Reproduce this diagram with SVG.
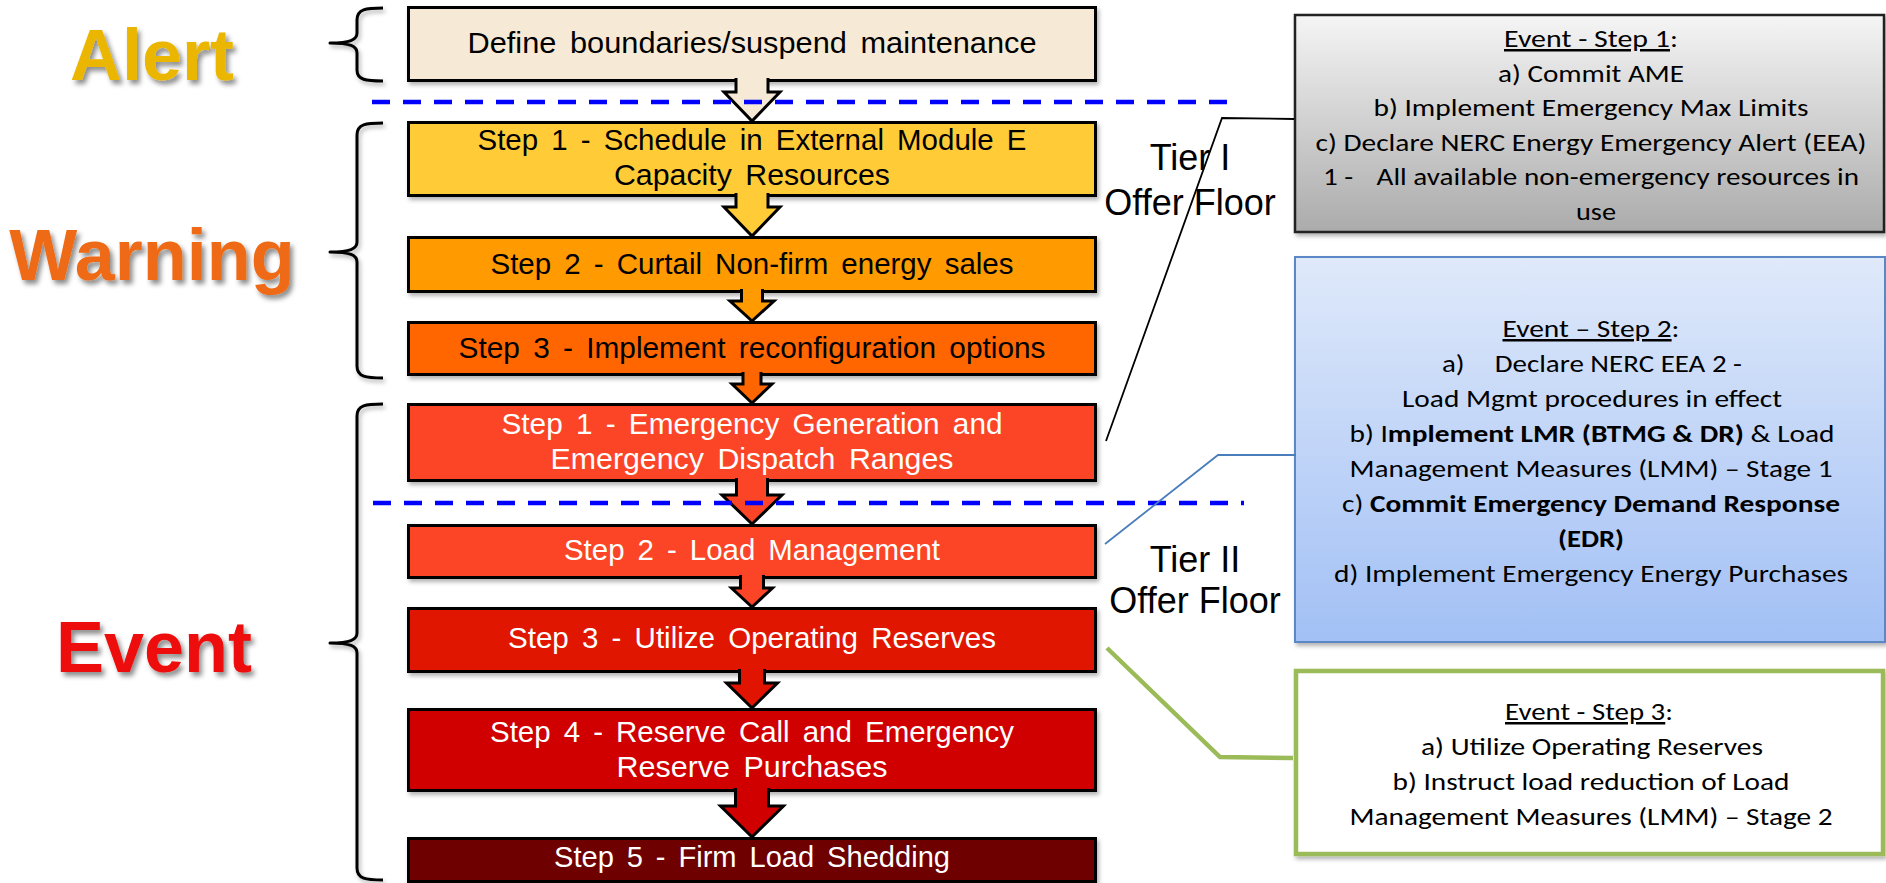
<svg xmlns="http://www.w3.org/2000/svg" width="1886" height="883" viewBox="0 0 1886 883">
  <defs>
    <filter id="textShadow" x="-10%" y="-20%" width="130%" height="150%">
      <feDropShadow dx="3" dy="4" stdDeviation="2.5" flood-color="#000" flood-opacity="0.45"/>
    </filter>
    <filter id="softShadow" x="-5%" y="-10%" width="115%" height="130%">
      <feDropShadow dx="2" dy="3" stdDeviation="2" flood-color="#000" flood-opacity="0.3"/>
    </filter>
    <linearGradient id="grayFill" x1="0" y1="0" x2="0" y2="1">
      <stop offset="0" stop-color="#F5F5F5"/>
      <stop offset="1" stop-color="#ABABAB"/>
    </linearGradient>
    <linearGradient id="blueFill" x1="0" y1="0" x2="0" y2="1">
      <stop offset="0" stop-color="#DFE9FA"/>
      <stop offset="1" stop-color="#A2C0F5"/>
    </linearGradient>
  </defs>
  <style>
    .phase{font-family:"Liberation Sans",Arial,sans-serif;font-weight:bold;font-size:72px;text-anchor:middle;filter:url(#textShadow)}
    .brace{fill:none;stroke:#000;stroke-width:3;stroke-linejoin:round;filter:url(#softShadow)}
    .step{stroke:#000;stroke-width:3;filter:url(#softShadow)}
    .lbl{font-family:"Liberation Sans Narrow","Arial Narrow","Liberation Sans",sans-serif;font-size:30px;word-spacing:5px;text-anchor:middle}
    .dark{fill:#000}
    .light{fill:#fff}
    .arrow{stroke:#000;stroke-width:3;stroke-linejoin:miter}
    .divider{stroke:#0000FF;stroke-width:4.5;stroke-dasharray:18 13;fill:none}
    .tier{font-family:"Liberation Sans",Arial,sans-serif;font-size:36px;text-anchor:middle;fill:#000}
    .note{font-family:Carlito,Lato,"Liberation Sans",sans-serif;font-size:25px;text-anchor:middle;fill:#000}
    .b{font-weight:bold}
    .u{text-decoration:underline}
    .callout{fill:none;stroke-linejoin:miter}
  </style>

  <!-- phase headings -->
  <g id="phase-alert">
    <text class="phase" x="152" y="80" fill="#EBB600">Alert</text>
    <path class="brace" d="M383,8 C366,8 357,9 357,20 V33 C357,40 350,43 330,43 C350,43 357,46 357,53 V70 C357,80 366,81 383,81"/>
  </g>
  <g id="phase-warning">
    <text class="phase" x="152" y="280" fill="#EE6A12">Warning</text>
    <path class="brace" d="M383,123 C366,123 357,124 357,135 V242 C357,249 350,252 330,252 C350,252 357,255 357,262 V366 C357,377 366,378 383,378"/>
  </g>
  <g id="phase-event">
    <text class="phase" x="154" y="672" fill="#EE0808">Event</text>
    <path class="brace" d="M383,404 C366,404 357,405 357,416 V633 C357,640 350,643 330,643 C350,643 357,646 357,653 V868 C357,879 366,880 383,880"/>
  </g>

  <!-- procedure steps -->
  <g id="alert-define">
    <rect class="step" x="408.5" y="7.5" width="687" height="73" fill="#F6EAD6"/>
    <text class="lbl dark" x="752" y="53" textLength="569" lengthAdjust="spacingAndGlyphs">Define boundaries/suspend maintenance</text>
  </g>
  <g id="warning-step1">
    <rect class="step" x="408.5" y="122.5" width="687" height="73" fill="#FFCC38"/>
    <text class="lbl dark" x="752" y="150" textLength="549" lengthAdjust="spacingAndGlyphs">Step 1 - Schedule in External Module E</text>
    <text class="lbl dark" x="752" y="185" textLength="276" lengthAdjust="spacingAndGlyphs">Capacity Resources</text>
  </g>
  <g id="warning-step2">
    <rect class="step" x="408.5" y="237.5" width="687" height="54" fill="#FF9A00"/>
    <text class="lbl dark" x="752" y="274" textLength="523" lengthAdjust="spacingAndGlyphs">Step 2 - Curtail Non-firm energy sales</text>
  </g>
  <g id="warning-step3">
    <rect class="step" x="408.5" y="322.5" width="687" height="52" fill="#FF6600"/>
    <text class="lbl dark" x="752" y="358" textLength="587" lengthAdjust="spacingAndGlyphs">Step 3 - Implement reconfiguration options</text>
  </g>
  <g id="event-step1">
    <rect class="step" x="408.5" y="404.5" width="687" height="76" fill="#FC4526"/>
    <text class="lbl light" x="752" y="434" textLength="501" lengthAdjust="spacingAndGlyphs">Step 1 - Emergency Generation and</text>
    <text class="lbl light" x="752" y="469" textLength="403" lengthAdjust="spacingAndGlyphs">Emergency Dispatch Ranges</text>
  </g>
  <g id="event-step2">
    <rect class="step" x="408.5" y="525.5" width="687" height="52" fill="#FC4526"/>
    <text class="lbl light" x="752" y="560" textLength="376" lengthAdjust="spacingAndGlyphs">Step 2 - Load Management</text>
  </g>
  <g id="event-step3">
    <rect class="step" x="408.5" y="608.5" width="687" height="63" fill="#E01400"/>
    <text class="lbl light" x="752" y="648" textLength="488" lengthAdjust="spacingAndGlyphs">Step 3 - Utilize Operating Reserves</text>
  </g>
  <g id="event-step4">
    <rect class="step" x="408.5" y="709.5" width="687" height="81" fill="#D00000"/>
    <text class="lbl light" x="752" y="742" textLength="524" lengthAdjust="spacingAndGlyphs">Step 4 - Reserve Call and Emergency</text>
    <text class="lbl light" x="752" y="777" textLength="271" lengthAdjust="spacingAndGlyphs">Reserve Purchases</text>
  </g>
  <g id="event-step5">
    <rect class="step" x="408.5" y="838.5" width="687" height="43" fill="#6E0000"/>
    <text class="lbl light" x="752" y="867" textLength="396" lengthAdjust="spacingAndGlyphs">Step 5 - Firm Load Shedding</text>
  </g>

  <!-- offer floor tiers -->
  <g id="tier-1">
    <text class="tier" x="1190" y="170">Tier I</text>
    <text class="tier" x="1190" y="215">Offer Floor</text>
  </g>
  <g id="tier-2">
    <text class="tier" x="1195" y="572">Tier II</text>
    <text class="tier" x="1195" y="613">Offer Floor</text>
  </g>

  <!-- step details -->
  <g id="detail-step1">
    <rect x="1295" y="15" width="589" height="217" fill="url(#grayFill)" stroke="#222" stroke-width="2.5" filter="url(#softShadow)"/>
    <text class="note" x="1591" y="47" textLength="174" lengthAdjust="spacingAndGlyphs"><tspan class="u">Event - Step 1</tspan>:</text>
    <text class="note" x="1591" y="81.5" textLength="186" lengthAdjust="spacingAndGlyphs">a) Commit AME</text>
    <text class="note" x="1591" y="116" textLength="435" lengthAdjust="spacingAndGlyphs">b) Implement Emergency Max Limits</text>
    <text class="note" x="1591" y="150.5" textLength="551" lengthAdjust="spacingAndGlyphs">c) Declare NERC Energy Emergency Alert (EEA)</text>
    <text class="note" x="1591" y="185" textLength="536" lengthAdjust="spacingAndGlyphs">1 -<tspan dx="20">All available non-emergency resources in</tspan></text>
    <text class="note" x="1596" y="219.5" textLength="40" lengthAdjust="spacingAndGlyphs">use</text>
  </g>
  <g id="detail-step2">
    <rect x="1295" y="257" width="590" height="385" fill="url(#blueFill)" stroke="#5B87C5" stroke-width="2" filter="url(#softShadow)"/>
    <text class="note" x="1591" y="337" textLength="177" lengthAdjust="spacingAndGlyphs"><tspan class="u">Event – Step 2</tspan>:</text>
    <text class="note" x="1592" y="372" textLength="300" lengthAdjust="spacingAndGlyphs">a)<tspan dx="26">Declare NERC EEA 2 -</tspan></text>
    <text class="note" x="1592" y="407" textLength="380" lengthAdjust="spacingAndGlyphs">Load Mgmt procedures in effect</text>
    <text class="note" x="1592" y="442" textLength="485" lengthAdjust="spacingAndGlyphs">b) I<tspan class="b">mplement LMR (BTMG &amp; DR)</tspan> &amp; Load</text>
    <text class="note" x="1591" y="477" textLength="483" lengthAdjust="spacingAndGlyphs">Management Measures (LMM) – Stage 1</text>
    <text class="note" x="1591" y="512" textLength="498" lengthAdjust="spacingAndGlyphs">c) <tspan class="b">Commit Emergency Demand Response</tspan></text>
    <text class="note b" x="1591" y="547" textLength="66" lengthAdjust="spacingAndGlyphs">(EDR)</text>
    <text class="note" x="1591" y="582" textLength="514" lengthAdjust="spacingAndGlyphs">d) Implement Emergency Energy Purchases</text>
  </g>
  <g id="detail-step3">
    <rect x="1296" y="671" width="587" height="183" fill="#FFFFFF" stroke="#9BBB59" stroke-width="4.5" filter="url(#softShadow)"/>
    <text class="note" x="1589" y="720" textLength="168" lengthAdjust="spacingAndGlyphs"><tspan class="u">Event - Step 3</tspan>:</text>
    <text class="note" x="1592" y="755" textLength="342" lengthAdjust="spacingAndGlyphs">a) Utilize Operating Reserves</text>
    <text class="note" x="1591" y="790" textLength="397" lengthAdjust="spacingAndGlyphs">b) Instruct load reduction of Load</text>
    <text class="note" x="1591" y="825" textLength="483" lengthAdjust="spacingAndGlyphs">Management Measures (LMM) – Stage 2</text>
  </g>

  <!-- flow arrows, tier dividers and detail leaders -->
  <g id="connectors">
    <path class="arrow" fill="#F6EAD6" d="M736,78 V92 H724 L752,121 L780,92 H768 V78"/>
    <path class="arrow" fill="#FFCC38" d="M736,193 V207 H724 L752,236 L780,207 H768 V193"/>
    <path class="arrow" fill="#FF9A00" d="M741.5,289 V301 H730 L752,321 L774,301 H762.5 V289"/>
    <path class="arrow" fill="#FF6600" d="M743,372 V384 H732 L752,403 L772,384 H761 V372"/>
    <path class="arrow" fill="#FC4526" d="M736.5,478 V495 H722 L752,524 L782,495 H767.5 V478"/>
    <path class="arrow" fill="#FC4526" d="M740.5,575 V588 H731.5 L752,607 L772.5,588 H763.5 V575"/>
    <path class="arrow" fill="#E01400" d="M739.5,669 V683 H726.5 L752,708 L777.5,683 H764.5 V669"/>
    <path class="arrow" fill="#D00000" d="M735.5,788 V806 H720.5 L752,837 L783.5,806 H768.5 V788"/>

    <line class="divider" x1="372" y1="102" x2="1240" y2="102"/>
    <line class="divider" x1="373" y1="503" x2="1244" y2="503"/>

    <polyline class="callout" points="1106,441 1222,118 1294,119" stroke="#000" stroke-width="1.8"/>
    <polyline class="callout" points="1105,544 1218,455 1296,455" stroke="#4A7EBB" stroke-width="1.8"/>
    <polyline class="callout" points="1107,648 1220,757 1293,758" stroke="#9BBB59" stroke-width="4.5"/>
  </g>
</svg>
